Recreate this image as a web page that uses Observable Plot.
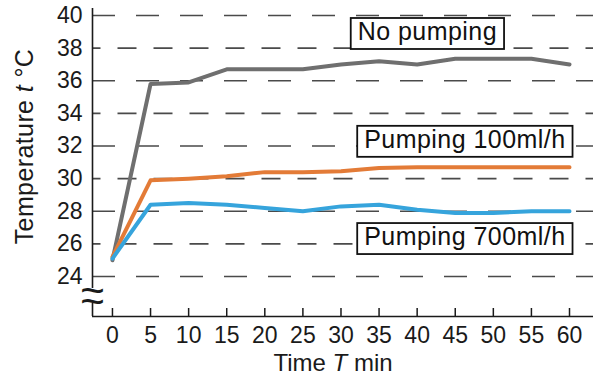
<!DOCTYPE html>
<html>
<head>
<meta charset="utf-8">
<script src="https://cdn.jsdelivr.net/npm/d3@7"></script>
<script src="https://cdn.jsdelivr.net/npm/@observablehq/plot@0.6"></script>
<style>
  html, body { margin: 0; padding: 0; background: #fff; }
  #chart { width: 593px; height: 381px; }
</style>
</head>
<body>
<div id="chart"></div>
<script>
// ---- data ----
const time = [0, 5, 10, 15, 20, 25, 30, 35, 40, 45, 50, 55, 60];
const noPumping = [25.0, 35.8, 35.9, 36.7, 36.7, 36.7, 37.0, 37.2, 37.0, 37.35, 37.35, 37.35, 37.0];
const pumping100 = [25.2, 29.9, 30.0, 30.15, 30.4, 30.4, 30.45, 30.65, 30.7, 30.7, 30.7, 30.7, 30.7];
const pumping700 = [25.1, 28.4, 28.5, 28.4, 28.2, 28.0, 28.3, 28.4, 28.1, 27.9, 27.9, 28.0, 28.0];
const seriesNames = ["No pumping", "Pumping 100ml/h", "Pumping 700ml/h"];
const seriesColors = ["#6f6f6f", "#e37b37", "#36a4dc"];
const xTicks = [0, 5, 10, 15, 20, 25, 30, 35, 40, 45, 50, 55, 60];
const yTicks = [24, 26, 28, 30, 32, 34, 36, 38, 40];
const xLabel = "Time T min";
const yLabel = "Temperature t °C";

const seriesValues = [noPumping, pumping100, pumping700];
const rows = seriesNames.flatMap((name, i) =>
  time.map((t, j) => ({series: name, time: t, temp: seriesValues[i][j]})));

const xDomain = [-2.62, 63.15];
const yDomain = [21.55, 40.43];
const font = "'Liberation Sans', Arial, sans-serif";

const gridA = yTicks.filter(v => v % 4 === 0);
const gridB = yTicks.filter(v => v % 4 !== 0);

const plot = Plot.plot({
  width: 593,
  height: 381,
  marginLeft: 92,
  marginRight: 0,
  marginTop: 8,
  marginBottom: 65,
  style: {fontFamily: font, fontSize: "23px", color: "#1a1a1a", background: "#fff"},
  x: {domain: xDomain, label: null},
  y: {domain: yDomain, label: null},
  color: {domain: seriesNames, range: seriesColors},
  marks: [
    // dashed gridlines
    Plot.ruleY(gridA, {y: d => d, stroke: "#4a4a4a", strokeWidth: 1.6, strokeDasharray: "23,21"}),
    Plot.ruleY(gridB, {y: d => d, stroke: "#4a4a4a", strokeWidth: 1.6, strokeDasharray: "19,17", strokeDashoffset: 10.5}),
    // axes
    Plot.axisY(yTicks, {tickSize: 0, tickPadding: 10, fontSize: 23, fill: "#1a1a1a", label: null}),
    Plot.axisX(xTicks, {tickSize: 0, tickPadding: 10, fontSize: 23, fill: "#1a1a1a", label: null}),
    Plot.tickX(xTicks, {x: d => d, insetTop: 300, stroke: "#1a1a1a", strokeWidth: 1.5}),
    Plot.ruleY([yDomain[0]], {y: d => d, stroke: "#1a1a1a", strokeWidth: 1.6}),
    Plot.ruleX([xDomain[0]], {x: d => d, y1: 23.27, y2: yDomain[1], stroke: "#1a1a1a", strokeWidth: 1.6}),
    Plot.ruleX([xDomain[0]], {x: d => d, y1: yDomain[0], y2: 22.35, stroke: "#1a1a1a", strokeWidth: 1.6}),
    // axis break squiggles
    Plot.text([23.05, 22.42], {x: () => xDomain[0], y: d => d, text: () => "~", fontSize: 42, fill: "#1a1a1a", fontFamily: font}),
    // series
    Plot.line(rows, {x: "time", y: "temp", z: "series", stroke: "series", strokeWidth: 4, strokeLinejoin: "round", strokeLinecap: "round"}),
    // series labels
    Plot.text([seriesNames[0]], {x: 32.2, y: 38.99, text: d => d, textAnchor: "start", lineAnchor: "middle", fontSize: 25, fill: "#111", fontFamily: font, className: "series-label"}),
    Plot.text([seriesNames[1]], {x: 33.05, y: 32.38, text: d => d, textAnchor: "start", lineAnchor: "middle", fontSize: 25, fill: "#111", fontFamily: font, className: "series-label"}),
    Plot.text([seriesNames[2]], {x: 33.05, y: 26.42, text: d => d, textAnchor: "start", lineAnchor: "middle", fontSize: 25, fill: "#111", fontFamily: font, className: "series-label"}),
    // axis labels
    Plot.text([yLabel], {frameAnchor: "left", dx: -68, dy: -16, rotate: -90, textAnchor: "middle", lineAnchor: "middle", text: d => d, fontSize: 25, fill: "#1a1a1a", fontFamily: font, className: "axis-title y-title"}),
    Plot.text([xLabel], {frameAnchor: "bottom", dx: -10, dy: 47, textAnchor: "middle", lineAnchor: "middle", text: d => d, fontSize: 24, fill: "#1a1a1a", fontFamily: font, className: "axis-title"})
  ]
});

document.getElementById("chart").appendChild(plot);

// italic variables in axis titles
d3.select(plot).selectAll(".axis-title text").each(function() {
  const t = this.textContent;
  if (t === yLabel) {
    this.innerHTML = 'Temperature <tspan font-style="italic">t</tspan> °C';
    this.setAttribute("letter-spacing", "0.4px");
  }
  if (t === xLabel) this.innerHTML = 'Time <tspan font-style="italic">T</tspan> min';
});

// boxed labels: draw a white, outlined box behind each series label
d3.select(plot).selectAll(".series-label text").each(function() {
  this.setAttribute("letter-spacing", "0.45px");
  const b = this.getBBox();
  const tr = this.getAttribute("transform");
  const r = d3.select(this.parentNode).insert("rect", () => this)
    .attr("x", b.x - 7).attr("y", b.y + 1)
    .attr("width", b.width + 14).attr("height", b.height + 3)
    .attr("fill", "#fff").attr("stroke", "#111").attr("stroke-width", 1.8);
  if (tr) r.attr("transform", tr);
});
</script>
</body>
</html>
